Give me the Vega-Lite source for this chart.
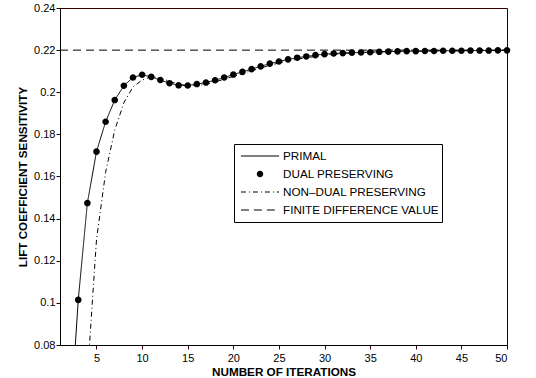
{
  "$schema": "https://vega.github.io/schema/vega-lite/v6.json",
  "width": 447,
  "height": 337,
  "autosize": "none",
  "padding": {"left": 60, "top": 8, "right": 29, "bottom": 33},
  "background": "white",
  "config": {
    "view": {"stroke": "#300000", "strokeWidth": 1},
    "font": "Liberation Sans",
    "axis": {
      "domainColor": "#000000",
      "labelColor": "black",
      "labelFont": "Liberation Sans",
      "labelFontSize": 11,
      "titleFont": "Liberation Sans",
      "titleFontSize": 11.7,
      "titleFontWeight": "bold",
      "titleColor": "black"
    }
  },
  "data": {
    "values": [
      {"it": 1, "FINITE DIFFERENCE VALUE": 0.22},
      {"it": 2, "PRIMAL": 0.035},
      {"it": 3, "PRIMAL": 0.1014, "DUAL PRESERVING": 0.1014},
      {"it": 4, "PRIMAL": 0.1474, "DUAL PRESERVING": 0.1474, "NON–DUAL PRESERVING": 0.065},
      {"it": 5, "PRIMAL": 0.1718, "DUAL PRESERVING": 0.1718, "NON–DUAL PRESERVING": 0.130},
      {"it": 6, "PRIMAL": 0.1860, "DUAL PRESERVING": 0.1860, "NON–DUAL PRESERVING": 0.162},
      {"it": 7, "PRIMAL": 0.1963, "DUAL PRESERVING": 0.1963, "NON–DUAL PRESERVING": 0.182},
      {"it": 8, "PRIMAL": 0.2031, "DUAL PRESERVING": 0.2031, "NON–DUAL PRESERVING": 0.195},
      {"it": 9, "PRIMAL": 0.2070, "DUAL PRESERVING": 0.2070, "NON–DUAL PRESERVING": 0.2025},
      {"it": 10, "PRIMAL": 0.2083, "DUAL PRESERVING": 0.2083, "NON–DUAL PRESERVING": 0.2058},
      {"it": 11, "PRIMAL": 0.2073, "DUAL PRESERVING": 0.2073, "NON–DUAL PRESERVING": 0.2074},
      {"it": 12, "PRIMAL": 0.2058, "DUAL PRESERVING": 0.2058, "NON–DUAL PRESERVING": 0.2068},
      {"it": 13, "PRIMAL": 0.2043, "DUAL PRESERVING": 0.2043, "NON–DUAL PRESERVING": 0.2052},
      {"it": 14, "PRIMAL": 0.2033, "DUAL PRESERVING": 0.2033, "NON–DUAL PRESERVING": 0.2038},
      {"it": 15, "PRIMAL": 0.2032, "DUAL PRESERVING": 0.2032, "NON–DUAL PRESERVING": 0.2031},
      {"it": 16, "PRIMAL": 0.2039, "DUAL PRESERVING": 0.2039, "NON–DUAL PRESERVING": 0.2032},
      {"it": 17, "PRIMAL": 0.2046, "DUAL PRESERVING": 0.2046, "NON–DUAL PRESERVING": 0.2038},
      {"it": 18, "PRIMAL": 0.2057, "DUAL PRESERVING": 0.2057, "NON–DUAL PRESERVING": 0.2049},
      {"it": 19, "PRIMAL": 0.2070, "DUAL PRESERVING": 0.2070, "NON–DUAL PRESERVING": 0.2062},
      {"it": 20, "PRIMAL": 0.2084, "DUAL PRESERVING": 0.2084, "NON–DUAL PRESERVING": 0.2076},
      {"it": 21, "PRIMAL": 0.2097, "DUAL PRESERVING": 0.2097, "NON–DUAL PRESERVING": 0.2089},
      {"it": 22, "PRIMAL": 0.2110, "DUAL PRESERVING": 0.2110, "NON–DUAL PRESERVING": 0.2102},
      {"it": 23, "PRIMAL": 0.2123, "DUAL PRESERVING": 0.2123, "NON–DUAL PRESERVING": 0.2115},
      {"it": 24, "PRIMAL": 0.2136, "DUAL PRESERVING": 0.2136, "NON–DUAL PRESERVING": 0.2128},
      {"it": 25, "PRIMAL": 0.2146, "DUAL PRESERVING": 0.2146, "NON–DUAL PRESERVING": 0.2139},
      {"it": 26, "PRIMAL": 0.2156, "DUAL PRESERVING": 0.2156, "NON–DUAL PRESERVING": 0.2149},
      {"it": 27, "PRIMAL": 0.2164, "DUAL PRESERVING": 0.2164, "NON–DUAL PRESERVING": 0.2157},
      {"it": 28, "PRIMAL": 0.2170, "DUAL PRESERVING": 0.2170, "NON–DUAL PRESERVING": 0.2164},
      {"it": 29, "PRIMAL": 0.2176, "DUAL PRESERVING": 0.2176, "NON–DUAL PRESERVING": 0.2170},
      {"it": 30, "PRIMAL": 0.2181, "DUAL PRESERVING": 0.2181, "NON–DUAL PRESERVING": 0.2176},
      {"it": 31, "PRIMAL": 0.2184, "DUAL PRESERVING": 0.2184, "NON–DUAL PRESERVING": 0.2180},
      {"it": 32, "PRIMAL": 0.2186, "DUAL PRESERVING": 0.2186, "NON–DUAL PRESERVING": 0.2184},
      {"it": 33, "PRIMAL": 0.2188, "DUAL PRESERVING": 0.2188, "NON–DUAL PRESERVING": 0.2187},
      {"it": 34, "PRIMAL": 0.2189, "DUAL PRESERVING": 0.2189, "NON–DUAL PRESERVING": 0.2189},
      {"it": 35, "PRIMAL": 0.2190, "DUAL PRESERVING": 0.2190, "NON–DUAL PRESERVING": 0.2190},
      {"it": 36, "PRIMAL": 0.2192, "DUAL PRESERVING": 0.2192, "NON–DUAL PRESERVING": 0.2192},
      {"it": 37, "PRIMAL": 0.2193, "DUAL PRESERVING": 0.2193, "NON–DUAL PRESERVING": 0.2193},
      {"it": 38, "PRIMAL": 0.2194, "DUAL PRESERVING": 0.2194, "NON–DUAL PRESERVING": 0.2194},
      {"it": 39, "PRIMAL": 0.2195, "DUAL PRESERVING": 0.2195, "NON–DUAL PRESERVING": 0.2195},
      {"it": 40, "PRIMAL": 0.2195, "DUAL PRESERVING": 0.2195, "NON–DUAL PRESERVING": 0.2195},
      {"it": 41, "PRIMAL": 0.2196, "DUAL PRESERVING": 0.2196, "NON–DUAL PRESERVING": 0.2196},
      {"it": 42, "PRIMAL": 0.2196, "DUAL PRESERVING": 0.2196, "NON–DUAL PRESERVING": 0.2196},
      {"it": 43, "PRIMAL": 0.2197, "DUAL PRESERVING": 0.2197, "NON–DUAL PRESERVING": 0.2197},
      {"it": 44, "PRIMAL": 0.2197, "DUAL PRESERVING": 0.2197, "NON–DUAL PRESERVING": 0.2197},
      {"it": 45, "PRIMAL": 0.2197, "DUAL PRESERVING": 0.2197, "NON–DUAL PRESERVING": 0.2197},
      {"it": 46, "PRIMAL": 0.2198, "DUAL PRESERVING": 0.2198, "NON–DUAL PRESERVING": 0.2198},
      {"it": 47, "PRIMAL": 0.2198, "DUAL PRESERVING": 0.2198, "NON–DUAL PRESERVING": 0.2198},
      {"it": 48, "PRIMAL": 0.2198, "DUAL PRESERVING": 0.2198, "NON–DUAL PRESERVING": 0.2198},
      {"it": 49, "PRIMAL": 0.2199, "DUAL PRESERVING": 0.2199, "NON–DUAL PRESERVING": 0.2199},
      {"it": 50, "PRIMAL": 0.2199, "DUAL PRESERVING": 0.2199, "NON–DUAL PRESERVING": 0.2199, "FINITE DIFFERENCE VALUE": 0.22}
    ]
  },
  "layer": [
    {
      "transform": [
        {"fold": ["PRIMAL", "NON–DUAL PRESERVING", "FINITE DIFFERENCE VALUE"], "as": ["series", "value"]},
        {"filter": "isValid(datum.value)"}
      ],
      "mark": {"type": "line", "color": "black", "strokeWidth": 1, "clip": true},
      "encoding": {
        "x": {
          "field": "it", "type": "quantitative",
          "scale": {"domain": [1, 50], "nice": false, "zero": false},
          "axis": {"orient": "bottom", "values": [5, 10, 15, 20, 25, 30, 35, 40, 45, 50], "title": "NUMBER OF ITERATIONS", "grid": false, "ticks": true, "tickColor": "#300000", "tickSize": 4, "labelPadding": 3, "titlePadding": 3}
        },
        "y": {
          "field": "value", "type": "quantitative",
          "scale": {"domain": [0.08, 0.24], "nice": false, "zero": false},
          "axis": {"orient": "left", "values": [0.08, 0.1, 0.12, 0.14, 0.16, 0.18, 0.2, 0.22, 0.24], "format": "~g", "title": "LIFT COEFFICIENT SENSITIVITY", "grid": false, "ticks": true, "tickColor": "#300000", "tickSize": 4, "labelPadding": 1, "titlePadding": 5}
        },
        "detail": {"field": "series"},
        "strokeDash": {
          "field": "series", "type": "nominal",
          "scale": {"domain": ["PRIMAL", "NON–DUAL PRESERVING", "FINITE DIFFERENCE VALUE"], "range": [[1, 0], [5, 3, 1, 3], [8, 5]]},
          "legend": null
        }
      }
    },
    {
      "transform": [
        {"fold": ["DUAL PRESERVING"], "as": ["series", "value"]},
        {"filter": "isValid(datum.value)"}
      ],
      "mark": {"type": "point", "filled": false, "opacity": 1, "color": "black", "strokeWidth": 1.3, "size": 1444},
      "encoding": {
        "x": {"field": "it", "type": "quantitative"},
        "y": {"field": "value", "type": "quantitative"},
        "shape": {
          "field": "series", "type": "nominal",
          "scale": {
            "domain": ["PRIMAL", "DUAL PRESERVING", "NON–DUAL PRESERVING", "FINITE DIFFERENCE VALUE"],
            "range": [
              "M-1,0H1",
              "M-0.14,0A0.14,0.14 0 1,1 0.14,0A0.14,0.14 0 1,1 -0.14,0ZM-0.105,0A0.105,0.105 0 1,1 0.105,0A0.105,0.105 0 1,1 -0.105,0ZM-0.07,0A0.07,0.07 0 1,1 0.07,0A0.07,0.07 0 1,1 -0.07,0ZM-0.035,0A0.035,0.035 0 1,1 0.035,0A0.035,0.035 0 1,1 -0.035,0ZM-0.01,0A0.01,0.01 0 1,1 0.01,0A0.01,0.01 0 1,1 -0.01,0Z",
              "M-1,0H-0.74M-0.58,0H-0.53M-0.37,0H-0.11M0.05,0H0.1M0.26,0H0.52M0.68,0H0.73M0.89,0H1",
              "M-1,0H-0.58M-0.32,0H0.1M0.36,0H0.78"
            ]
          },
          "legend": {
            "orient": "none", "legendX": 174, "legendY": 136, "title": null, "direction": "vertical",
            "symbolSize": 1444, "clipHeight": 18, "padding": 3, "symbolOffset": 3, "labelOffset": 3,
            "labelFont": "Liberation Sans", "labelFontSize": 11.7, "labelColor": "black", "labelLimit": 400,
            "strokeColor": "black", "fillColor": "white", "rowPadding": 0,
            "symbolStrokeColor": "black", "symbolFillColor": "transparent", "symbolStrokeWidth": 1.2
          }
        }
      }
    }
  ]
}
